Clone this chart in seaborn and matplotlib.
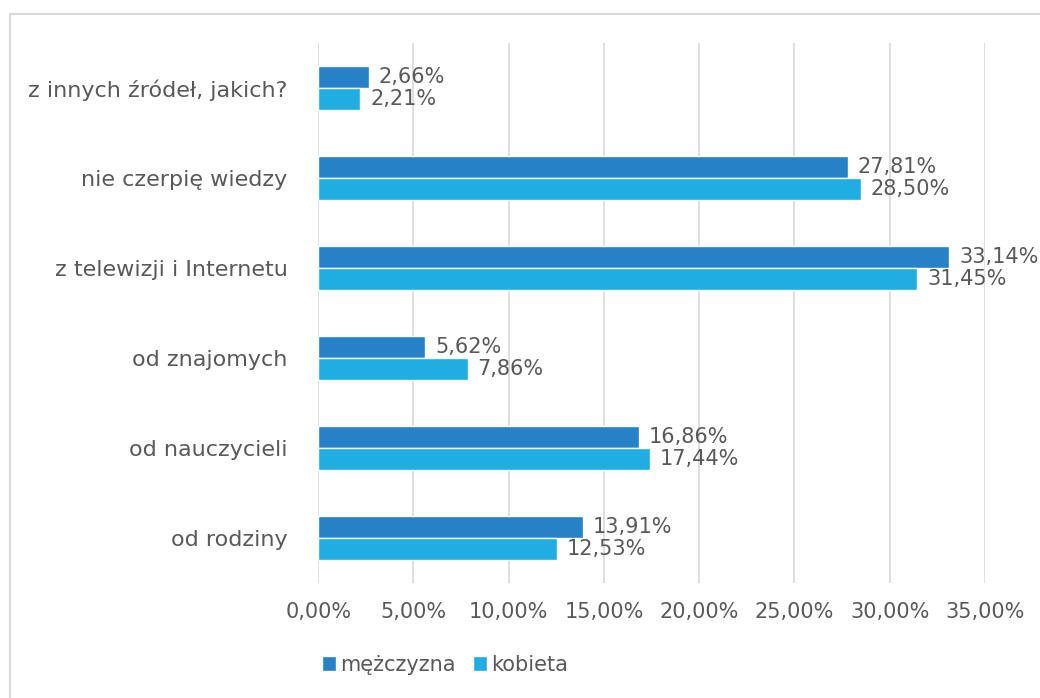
import pandas as pd
import seaborn as sns
import matplotlib.pyplot as plt
from matplotlib.patches import Rectangle

# --- Data ---
categories = ["z innych źródeł, jakich?", "nie czerpię wiedzy", "z telewizji i Internetu",
              "od znajomych", "od nauczycieli", "od rodziny"]
men = [2.66, 27.81, 33.14, 5.62, 16.86, 13.91]
women = [2.21, 28.50, 31.45, 7.86, 17.44, 12.53]
groups = ["mężczyzna", "kobieta"]
colors = ["#2681C6", "#1FADE2"]
ticks = [0, 5, 10, 15, 20, 25, 30, 35]

df = pd.DataFrame({
    "source": categories * 2,
    "value": men + women,
    "group": [groups[0]] * len(men) + [groups[1]] * len(women),
})

sns.set_style("white")
plt.rcParams["font.family"] = ["DejaVu Sans"]
text_color = "#595959"
fs = 15

fig = plt.figure(figsize=(10.4, 6.98), dpi=100)
ax = fig.add_axes([0.306, 0.165, 0.641, 0.773])

# chart border
fig.patches.append(Rectangle((10 / 1040, -0.1), 1.2, 1 - 14 / 698 + 0.1, transform=fig.transFigure,
                             fill=False, edgecolor="#D9D9D9", linewidth=1.5))

sns.barplot(data=df, y="source", x="value", hue="group", orient="h",
            palette=colors, saturation=1, width=0.49, gap=0, ax=ax, legend=True)

for cont in ax.containers:
    labels = [f"{v:.2f}%".replace(".", ",") for v in cont.datavalues]
    ax.bar_label(cont, labels=labels, padding=7, fontsize=fs, color=text_color)

ax.set_xlim(0, 35)
ax.set_xticks(ticks)
ax.set_xticklabels([f"{t:.2f}%".replace(".", ",") for t in ticks], fontsize=fs, color=text_color)
ax.tick_params(axis="y", labelsize=fs + 1, colors=text_color, length=0, pad=22)
ax.tick_params(axis="x", length=0, pad=14)
ax.set_xlabel("")
ax.set_ylabel("")
ax.xaxis.grid(True, color="#D9D9D9", linewidth=1.2)
ax.set_axisbelow(True)
for s in ax.spines.values():
    s.set_visible(False)

ax.legend(loc="center", bbox_to_anchor=(445 / 1040, 1 - 665 / 698), bbox_transform=fig.transFigure,
          ncol=2, frameon=False, fontsize=fs, handlelength=0.7, handleheight=0.7,
          handletextpad=0.2, columnspacing=0.8, labelcolor=text_color)

plt.savefig("out.png", dpi=100)
plt.close()
